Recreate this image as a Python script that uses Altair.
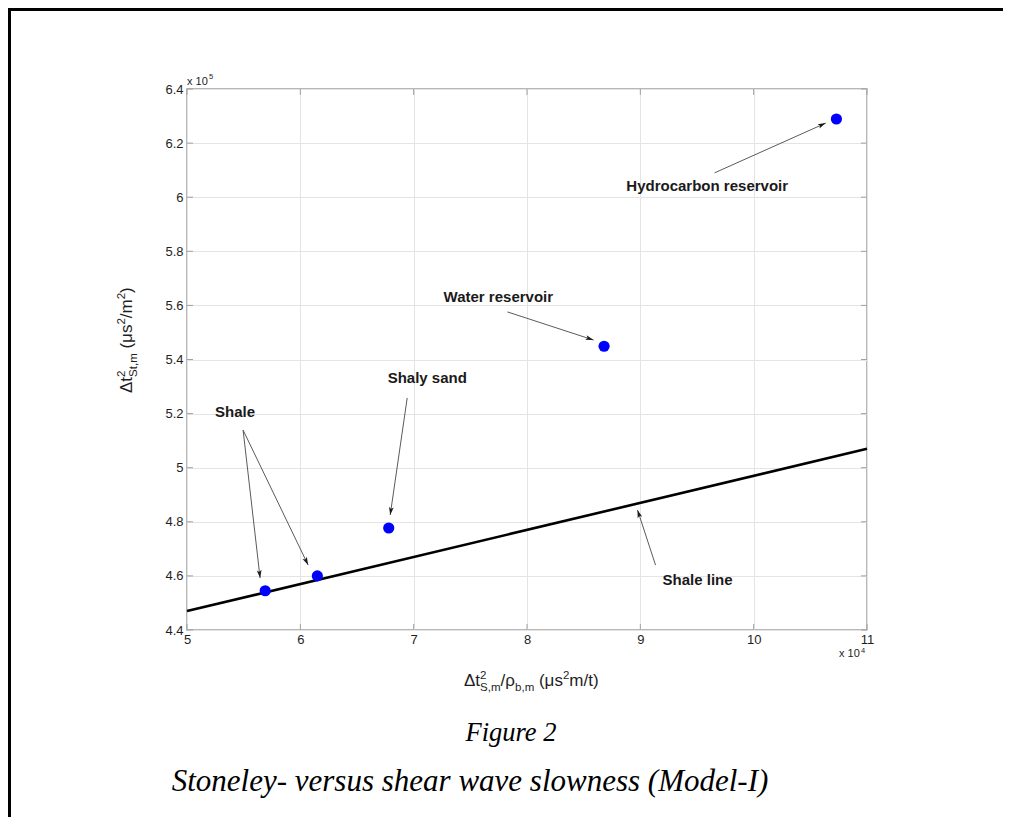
import math
import altair as alt
import pandas as pd

# ---------------- data (x in units of 1e4, y in units of 1e5) ----------------
line_x = [5.0, 11.0]
line_y = [4.47, 5.07]

pts_x = [5.69, 6.15, 6.78, 8.68, 10.73]
pts_y = [4.545, 4.600, 4.777, 5.449, 6.289]

x_ticks = [5, 6, 7, 8, 9, 10, 11]
y_ticks = [4.4, 4.6, 4.8, 5.0, 5.2, 5.4, 5.6, 5.8, 6.0, 6.2, 6.4]

ann_labels = ["Hydrocarbon reservoir", "Water reservoir", "Shaly sand", "Shale", "Shale line"]
ann_text_x = [9.59, 7.747, 7.12, 5.424, 9.505]
ann_text_y = [6.041, 5.631, 5.332, 5.206, 4.585]

arrow_from_x = [9.655, 7.827, 6.943, 5.495, 5.495, 9.134]
arrow_from_y = [6.090, 5.576, 5.258, 5.139, 5.139, 4.640]
arrow_to_x = [10.636, 8.587, 6.793, 5.645, 6.069, 8.975]
arrow_to_y = [6.274, 5.472, 4.825, 4.592, 4.640, 4.844]

# ---------------- layout / style ----------------
W, H = 680, 541
PAD = {"left": 179, "top": 81, "right": 136, "bottom": 187}
AX = "#a0a0a0"
TXT = "#1e1e1e"
SANS = "Liberation Sans"
SERIF = "Liberation Serif"

xs = alt.Scale(domain=[5, 11], nice=False, zero=False)
ys = alt.Scale(domain=[4.4, 6.4], nice=False, zero=False)

label_expr = ("abs(datum.value - round(datum.value)) < 1e-6 ? format(datum.value, 'd') "
              ": format(datum.value, '.1f')")

x_axis = alt.Axis(values=x_ticks, labelExpr=label_expr, title=None, ticks=False, domain=False,
                  grid=True, gridColor="#e4e4e4", gridWidth=1, labelFontSize=13,
                  labelColor=TXT, labelFont=SANS, labelPadding=3, labelFlush=False,
                  labelOverlap=False)
y_axis = alt.Axis(values=y_ticks, labelExpr=label_expr, title=None, ticks=False, domain=False,
                  grid=True, gridColor="#e4e4e4", gridWidth=1, labelFontSize=13,
                  labelColor=TXT, labelFont=SANS, labelPadding=4, labelFlush=False,
                  labelOverlap=False)


def X(f):
    return alt.X(f, scale=xs, axis=x_axis)


def Y(f):
    return alt.Y(f, scale=ys, axis=y_axis)


one = pd.DataFrame({"a": [0]})
layers = []

# shale line
line_df = pd.DataFrame({"x": line_x, "y": line_y})
layers.append(alt.Chart(line_df).mark_line(color="black", strokeWidth=2.6).encode(
    x=X("x:Q"), y=Y("y:Q")))

# inward ticks on all four sides
xt = pd.DataFrame({"v": x_ticks})
yt = pd.DataFrame({"v": y_ticks})
for y0, y1 in [(H, H - 6), (0, 6)]:
    layers.append(alt.Chart(xt).mark_rule(color=AX, strokeWidth=1).encode(
        x=X("v:Q"), y=alt.value(y0), y2=alt.value(y1)))
for x0, x1 in [(0, 6), (W, W - 6)]:
    layers.append(alt.Chart(yt).mark_rule(color=AX, strokeWidth=1).encode(
        y=Y("v:Q"), x=alt.value(x0), x2=alt.value(x1)))

# arrows
px_x = W / 6.0
px_y = H / 2.0
angles = []
for fx, fy, tx, ty in zip(arrow_from_x, arrow_from_y, arrow_to_x, arrow_to_y):
    dx = (tx - fx) * px_x
    dy = -(ty - fy) * px_y
    angles.append(math.degrees(math.atan2(dx, -dy)) % 360)
arr_df = pd.DataFrame({"fx": arrow_from_x, "fy": arrow_from_y,
                       "tx": arrow_to_x, "ty": arrow_to_y, "ang": angles})
layers.append(alt.Chart(arr_df).mark_rule(color="#5a5a5a", strokeWidth=1).encode(
    x=X("fx:Q"), y=Y("fy:Q"), x2="tx:Q", y2="ty:Q"))
layers.append(alt.Chart(arr_df).mark_point(
    shape="M0,0 L-0.6,2 L0,1.55 L0.6,2 Z", filled=True, size=64, color="#1a1a1a", opacity=1
).encode(x=X("tx:Q"), y=Y("ty:Q"), angle=alt.Angle("ang:Q", scale=None)))

# data points
pts_df = pd.DataFrame({"x": pts_x, "y": pts_y})
layers.append(alt.Chart(pts_df).mark_circle(color="#0000ff", size=125, opacity=1).encode(
    x=X("x:Q"), y=Y("y:Q")))

# annotation labels
ann_df = pd.DataFrame({"t": ann_labels, "x": ann_text_x, "y": ann_text_y})
layers.append(alt.Chart(ann_df).mark_text(font=SANS, fontWeight="bold", fontSize=15,
                                          color="#1a1a1a", baseline="middle", align="center").encode(
    x=X("x:Q"), y=Y("y:Q"), text="t:N"))


def txt(text, x, y, size, **kw):
    return alt.Chart(one).mark_text(text=text, fontSize=size, **kw).encode(
        x=alt.value(x), y=alt.value(y))


# exponent labels
layers.append(txt("x 10", 0, -4, 11, font=SANS, color=TXT, align="left", baseline="alphabetic"))
layers.append(txt("5", 22, -10, 7.5, font=SANS, color=TXT, align="left", baseline="alphabetic"))
layers.append(txt("x 10", 652, 568, 11, font=SANS, color=TXT, align="left", baseline="alphabetic"))
layers.append(txt("4", 674, 563.5, 7.5, font=SANS, color=TXT, align="left", baseline="alphabetic"))

# ---- composed axis titles with sub/superscripts ----
WID = {"Δ": 667, "t": 278, "S": 667, ",": 278, "m": 833, "/": 278, "ρ": 578, "b": 556,
       " ": 278, "(": 333, "μ": 576, "s": 500, "2": 556, ")": 333}


def tw(s, size):
    return sum(WID.get(c, 556) for c in s) * size / 1000.0


MAIN, SMALL = 17, 11.5
SUP, SUB = -7, 5
GAP = "gap"

# x title: Δt^2_{S,m}/ρ_{b,m} (μs^2m/t)
x_pieces = [[("Δt", 0)], [("2", SUP), ("S,m", SUB)], [("/ρ", 0)], [("b,m", SUB)],
            [(" ", GAP)], [("(μs", 0)], [("2", SUP)], [("m/t)", 0)]]
cx, base = 277, 597
for group in x_pieces:
    adv = 0
    for s, off in group:
        if off == GAP:
            adv = tw(s, MAIN)
            continue
        size = MAIN if off == 0 else SMALL
        layers.append(txt(s, cx, base + off, size, font=SANS, color=TXT, align="left",
                          baseline="alphabetic"))
        adv = max(adv, tw(s, size))
    cx += adv

# y title (rotated): Δt^2_{St,m} (μs^2/m^2)
y_pieces = [[("Δt", 0)], [("2", SUP), ("St,m", SUB)], [(" ", GAP)], [("(μs", 0)], [("2", SUP)],
            [("/m", 0)], [("2", SUP)], [(")", 0)]]
cy, bx = 304, -55
for group in y_pieces:
    adv = 0
    for s, off in group:
        if off == GAP:
            adv = tw(s, MAIN)
            continue
        size = MAIN if off == 0 else SMALL
        layers.append(txt(s, bx + off, cy, size, font=SANS, color=TXT, align="left",
                          baseline="alphabetic", angle=270))
        adv = max(adv, tw(s, size))
    cy -= adv

# frame around the figure
layers.append(alt.Chart(one).mark_rule(color="black", strokeWidth=3).encode(
    x=alt.value(-PAD["left"] + 1.5), y=alt.value(-PAD["top"]), y2=alt.value(H + PAD["bottom"])))
layers.append(alt.Chart(one).mark_rule(color="black", strokeWidth=3).encode(
    y=alt.value(-PAD["top"] + 1.5), x=alt.value(-PAD["left"]), x2=alt.value(W + PAD["right"])))

# captions
layers.append(txt("Figure 2", 324, 644, 26.5, font=SERIF, fontStyle="italic", color="black",
                  align="center", baseline="middle"))
layers.append(txt("Stoneley- versus shear wave slowness (Model-I)", 283, 693, 31, font=SERIF,
                  fontStyle="italic", color="black", align="center", baseline="middle"))

chart = alt.layer(*layers).properties(
    width=W, height=H, padding=PAD,
    autosize=alt.AutoSizeParams(type="none"),
    background="white",
).configure_view(stroke=AX, strokeWidth=1.5)

chart.save("out.html", embed_options={"renderer": "svg", "actions": False})
